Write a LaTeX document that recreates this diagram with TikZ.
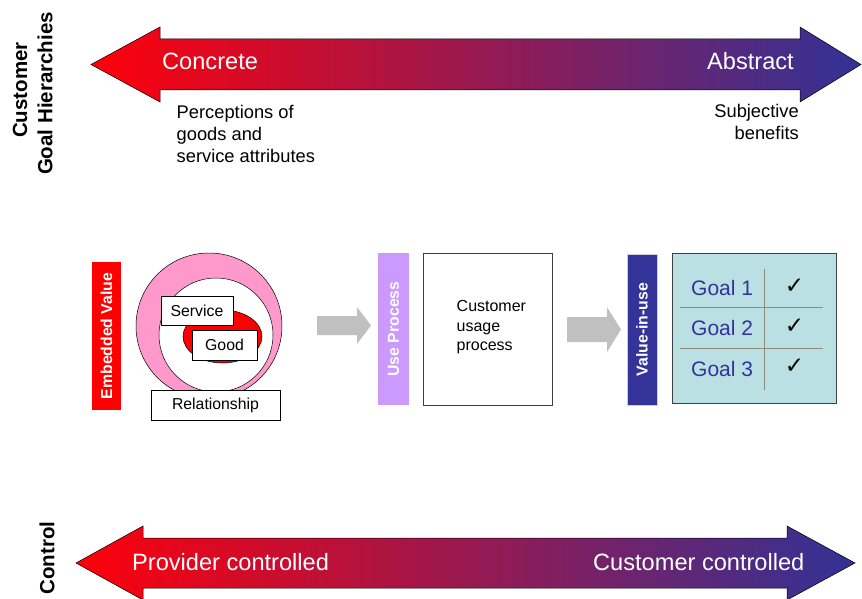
\documentclass[tikz,border=0pt]{standalone}
\usepackage{fontspec}
\setmainfont{Liberation Sans}
\newfontfamily\symfont{DejaVu Sans}
\definecolor{pinkring}{RGB}{255,153,204}
\definecolor{upurple}{RGB}{204,153,255}
\definecolor{viublue}{RGB}{51,51,153}
\definecolor{goalfill}{RGB}{187,224,227}
\definecolor{gridc}{RGB}{140,140,120}
\definecolor{arrgray}{RGB}{192,192,192}
\definecolor{gradL}{RGB}{255,0,10}
\definecolor{gradM}{RGB}{208,34,104}
\definecolor{gradR}{RGB}{50,50,150}
\definecolor{viuedge}{RGB}{205,205,225}
\begin{document}
\begin{tikzpicture}[x=1pt,y=-1pt,
  bigarrow/.style={left color=gradL, middle color=gradM, right color=gradR, draw=black, line width=0.5pt},
  arrtxt/.style={inner sep=0pt, text=white, anchor=base west, font=\fontsize{23.6}{28}\selectfont},
  sidelbl/.style={rotate=90, inner sep=0pt, font=\bfseries\fontsize{20.5}{24}\selectfont},
  bartxt/.style={rotate=90, inner sep=0pt, text=white, font=\bfseries\fontsize{15.8}{18}\selectfont},
  plain/.style={inner sep=0pt, font=\fontsize{18.3}{21.8}\selectfont},
  boxlbl/.style={draw=black, fill=white, line width=0.6pt, inner sep=0pt, font=\fontsize{15.8}{19}\selectfont},
  goaltxt/.style={inner sep=0pt, anchor=base west, text=viublue, font=\fontsize{21}{24}\selectfont},
  tick/.style={inner sep=0pt, font=\symfont\fontsize{23}{26}\selectfont},
  grayarrow/.style={fill=arrgray, draw=none},
  gridline/.style={draw=gridc, line width=0.8pt}
]
\useasboundingbox (0,0) rectangle (862,599);

% ---- top double arrow
\shadedraw[bigarrow] (91,64.5) -- (160,27) -- (160,39) -- (800,39) -- (800,27)
  -- (861,64.5) -- (800,102) -- (800,90) -- (160,90) -- (160,102) -- cycle;
\node[arrtxt] (concrete) at (162,70) {Concrete};
\node[arrtxt] (abstract) at (707,70) {Abstract};
\node[plain, anchor=north west, align=left] (percep) at (176.5,105) {Perceptions of\\goods and\\service attributes};
\node[plain, anchor=north east, align=right] (subj) at (799,104) {Subjective\\benefits};

% ---- bottom double arrow
\shadedraw[bigarrow] (76,563) -- (143,526) -- (143,538) -- (787,538) -- (787,526)
  -- (855,563) -- (787,600) -- (787,588) -- (143,588) -- (143,600) -- cycle;
\node[arrtxt] (provider) at (132,570) {Provider controlled};
\node[arrtxt] (custctl) at (593,570) {Customer controlled};

% ---- side labels
\node[sidelbl] (cust) at (20,90) {Customer};
\node[sidelbl] (goalh) at (45,93.5) {Goal Hierarchies};
\node[sidelbl] (ctrl) at (47,558) {Control};

% ---- embedded value
\node[bartxt, fill=red, minimum width=148, minimum height=29] (ev) at (106.5,336) {Embedded Value};
\filldraw[fill=pinkring, draw=black, line width=0.5pt] (209,326) circle[radius=73];
\filldraw[fill=white, draw=black, line width=0.5pt] (216,335) circle[radius=57];
\filldraw[fill=red, draw=black, line width=0.5pt] (222.5,336.5) ellipse[x radius=39.5, y radius=26.5];
\node[boxlbl, minimum width=72, minimum height=29] (service) at (197,310.5) {Service};
\node[boxlbl, minimum width=65, minimum height=30] (good) at (224.5,345) {Good};
\node[boxlbl, minimum width=129, minimum height=30] (rel) at (215.5,405) {Relationship};

% ---- gray arrow 1
\fill[grayarrow] (317,316) -- (357,316) -- (357,307) -- (371,325.5) -- (357,344) -- (357,335) -- (317,335) -- cycle;

% ---- use process
\node[bartxt, fill=upurple, minimum width=152, minimum height=31] (up) at (393.5,329) {Use Process};
\node[draw=black!75, fill=white, line width=0.9pt, minimum width=129, minimum height=152, inner sep=0pt] (cubox) at (487.5,329) {};
\node[inner sep=0pt, anchor=north west, align=left, font=\fontsize{16}{19.5}\selectfont] (cutext) at (456.5,300.5) {Customer\\usage\\process};

% ---- gray arrow 2
\fill[grayarrow] (567,317) -- (607,317) -- (607,307) -- (621,329.5) -- (607,352) -- (607,342) -- (567,342) -- cycle;

% ---- value in use
\node[bartxt, fill=viublue, draw=viuedge, line width=1pt, minimum width=151, minimum height=30] (viu) at (642,329.5) {Value-in-use};
\node[draw=black!75, fill=goalfill, line width=0.9pt, minimum width=164, minimum height=150, inner sep=0pt] (goals) at (754,328) {};
\draw[gridline] (764,269) -- (764,390);
\draw[gridline] (680,307) -- (823,307);
\draw[gridline] (680,348) -- (823,348);
\node[goaltxt] (g1) at (691,295) {Goal 1};
\node[goaltxt] (g2) at (691,335.5) {Goal 2};
\node[goaltxt] (g3) at (691,376) {Goal 3};
\node[tick] (t1) at (794.5,286) {✓};
\node[tick] (t2) at (794.5,326.5) {✓};
\node[tick] (t3) at (794.5,366.5) {✓};
\end{tikzpicture}
\end{document}
